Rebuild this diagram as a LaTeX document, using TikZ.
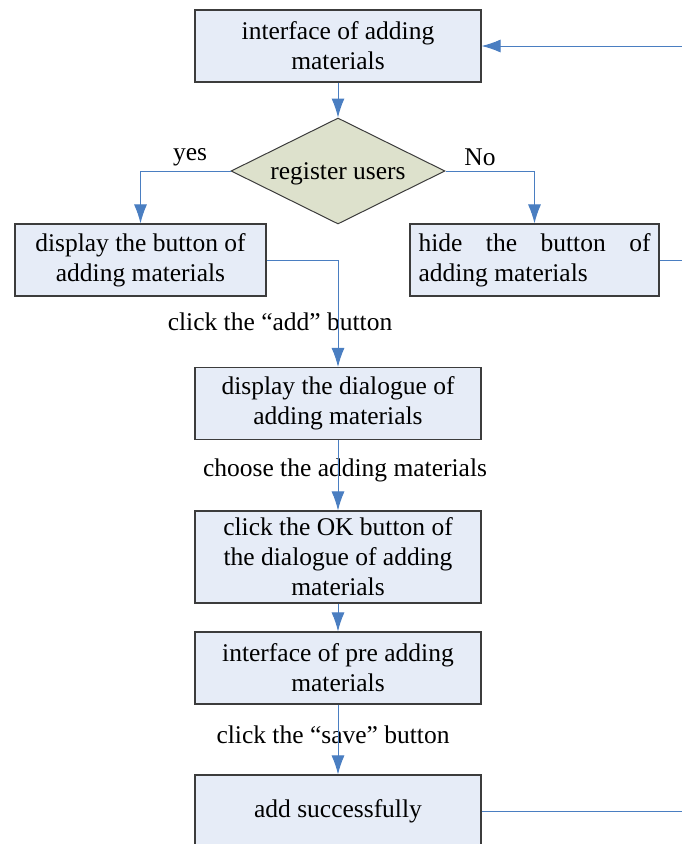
\documentclass[tikz,border=0pt]{standalone}
\usepackage{fontspec}
\setmainfont{Liberation Serif}
\usetikzlibrary{shapes.geometric,arrows.meta}
\definecolor{boxfill}{RGB}{230,236,247}
\definecolor{dmdfill}{RGB}{221,225,204}
\definecolor{flowblue}{RGB}{74,126,193}
\definecolor{boxline}{RGB}{60,60,60}
\tikzset{
  box/.style={draw=boxline,fill=boxfill,line width=1.1pt,inner sep=0pt,
    minimum width=286pt,minimum height=72pt,align=center,
    font=\fontsize{25.5}{30}\selectfont},
  dmd/.style={diamond,draw=boxline,fill=dmdfill,line width=1pt,inner sep=0pt,
    shape aspect=2,minimum width=214pt,minimum height=106pt,text depth=0pt,
    font=\fontsize{25.5}{30}\selectfont},
  lbl/.style={font=\fontsize{25.5}{30}\selectfont,inner sep=0pt},
  flow/.style={draw=flowblue,line width=1pt},
  tip/.style={flow,-{Latex[length=19pt,width=13pt]}}
}
\begin{document}
\begin{tikzpicture}[x=1pt,y=-1pt]
\useasboundingbox (0,0) rectangle (682,844);
\def\mx{338}
\node[box] (iface) at (\mx,46) {interface of adding\\materials};
\node[dmd] (reg) at (\mx,171) {register users};
\node[box,minimum width=251pt] (show) at (140.5,260) {display the button of\\adding materials};
\node[box,minimum width=249pt,text width=232pt,align=justify] (hide) at (534.5,260)
  {hide the button of adding materials};
\node[box] (dlg) at (\mx,403.5) {display the dialogue of\\adding materials};
\node[box,minimum height=92pt] (ok) at (\mx,557) {click the OK button of\\the dialogue of adding\\materials};
\node[box] (pre) at (\mx,668) {interface of pre adding\\materials};
\node[box] (done) at (\mx,811) {add successfully};

\node[lbl] (yes) at (190,157) {yes};
\node[lbl] (no) at (480,157) {No};
\node[lbl] (clkadd) at (280,322) {click the “add” button};
\node[lbl] (choose) at (345,470) {choose the adding materials};
\node[lbl] (clksave) at (333,735) {click the “save” button};

\coordinate (inR) at (682,46);
\coordinate (hideR) at (682,260);
\coordinate (doneR) at (682,811);

\draw[tip] (inR) -- (iface.east);
\draw[tip] (iface.south) -- (reg.north);
\draw[tip] (reg.west) -| (show.north);
\draw[tip] (reg.east) -| (hide.north);
\draw[tip] (show.east) -| (dlg.north);
\draw[tip] (dlg.south) -- (ok.north);
\draw[tip] (ok.south) -- (pre.north);
\draw[tip] (pre.south) -- (done.north);
\draw[flow] (hide.east) -- (hideR);
\draw[flow] (done.east) -- (doneR);
\end{tikzpicture}
\end{document}
